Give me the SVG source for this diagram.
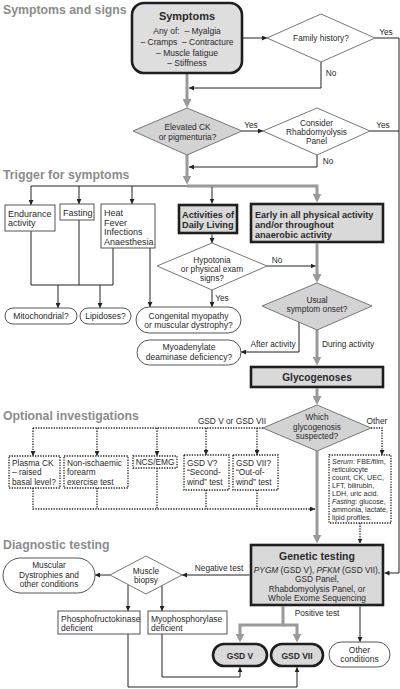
<svg xmlns="http://www.w3.org/2000/svg" width="400" height="689" viewBox="0 0 400 689">
<style>
text{font-family:"Liberation Sans",Arial,Helvetica,sans-serif;fill:#2a2a2a;font-size:8.3px}
.h{font-size:12.3px;font-weight:bold;fill:#8c8c8c}
.b{font-weight:bold}
.m{text-anchor:middle}
.tb{font-size:9px}
.thin{fill:#fff;stroke:#555;stroke-width:1}
.thick{fill:#d9d9d9;stroke:#1e1e1e;stroke-width:2.6}
.gd{fill:#d3d3d3;stroke:#777;stroke-width:1}
.wd{fill:#fff;stroke:#777;stroke-width:1}
.dot{fill:#fff;stroke:#222;stroke-width:1.3;stroke-dasharray:1.3 1.3}
.ln{fill:none;stroke:#222;stroke-width:1}
.gl{fill:none;stroke:#9a9a9a;stroke-width:3}
.dl{fill:none;stroke:#222;stroke-width:1.3;stroke-dasharray:1.3 1.3}
</style>
<defs>
<marker id="ab" viewBox="0 0 6 6" refX="6" refY="3" markerWidth="5" markerHeight="5" markerUnits="userSpaceOnUse" orient="auto"><path d="M0,0 L6,3 L0,6 z" fill="#222"/></marker>
<marker id="ag" viewBox="0 0 9 9" refX="6" refY="4.5" markerWidth="9" markerHeight="9" markerUnits="userSpaceOnUse" orient="auto"><path d="M0,0 L9,4.5 L0,9 z" fill="#9a9a9a"/></marker>
</defs>
<rect width="400" height="689" fill="#fff"/>

<g id="headers">
<text class="h" x="3" y="14">Symptoms and signs</text>
<text class="h" x="3" y="179">Trigger for symptoms</text>
<text class="h" x="3" y="420">Optional investigations</text>
<text class="h" x="3" y="549">Diagnostic testing</text>
</g>

<g id="connectors">
<path class="gl" d="M187,74 V105" marker-end="url(#ag)"/>
<path class="gl" d="M187,155 V181.5" marker-end="url(#ag)"/>
<path class="gl" d="M187,186 H317 V199.5" marker-end="url(#ag)"/>
<path class="gl" d="M317,243.5 V280" marker-end="url(#ag)"/>
<path class="gl" d="M317,330 V362.5" marker-end="url(#ag)"/>
<path class="gl" d="M317,388.5 V402" marker-end="url(#ag)"/>
<path class="gl" d="M317,451 V540.5" marker-end="url(#ag)"/>
<path class="gl" d="M283,606.5 V625 H240 V639.5" marker-end="url(#ag)"/>
<path class="gl" d="M283,625 H297 V639.5" marker-end="url(#ag)"/>

<path class="ln" d="M242,38 H267" marker-end="url(#ab)"/>
<path class="ln" d="M375,38 H399 V573 H384.5" marker-end="url(#ab)"/>
<path class="ln" d="M370,131 H399"/>
<path class="ln" d="M321,62 V88 H189" marker-end="url(#ab)"/>
<path class="ln" d="M242,131 H263" marker-end="url(#ab)"/>
<path class="ln" d="M317,155 V167 H189" marker-end="url(#ab)"/>

<path class="ln" d="M31,186 H187"/>
<path class="ln" d="M31,186 V205" marker-end="url(#ab)"/>
<path class="ln" d="M79,186 V204" marker-end="url(#ab)"/>
<path class="ln" d="M132,186 V204" marker-end="url(#ab)"/>
<path class="ln" d="M212,187 V203.5" marker-end="url(#ab)"/>
<path class="ln" d="M212,234.5 V243" marker-end="url(#ab)"/>
<path class="ln" d="M267,266 H315.5" marker-end="url(#ab)"/>
<path class="ln" d="M212,290 V307" marker-end="url(#ab)"/>
<path class="ln" d="M150,248 V307" marker-end="url(#ab)"/>
<path class="ln" d="M31,231 V285 H113 V248"/>
<path class="ln" d="M79,220 V285"/>
<path class="ln" d="M58,285 V308" marker-end="url(#ab)"/>
<path class="ln" d="M100,285 V308" marker-end="url(#ab)"/>
<path class="ln" d="M299,322 V352 H241" marker-end="url(#ab)"/>

<path class="dl" d="M263,428 H33"/>
<path class="dl" d="M33,428 V456" marker-end="url(#ab)"/>
<path class="dl" d="M97,428 V456" marker-end="url(#ab)"/>
<path class="dl" d="M157,428 V456" marker-end="url(#ab)"/>
<path class="dl" d="M206,428 V455" marker-end="url(#ab)"/>
<path class="dl" d="M257,428 V455" marker-end="url(#ab)"/>
<path class="dl" d="M33,488 V509 H315" marker-end="url(#ab)"/>
<path class="dl" d="M97,488 V509"/>
<path class="dl" d="M157,468 V509"/>
<path class="dl" d="M206,490 V509"/>
<path class="dl" d="M257,490 V509"/>
<path class="dl" d="M371,428 H382 V455" marker-end="url(#ab)"/>
<path class="dl" d="M360,523 V543.5" marker-end="url(#ab)"/>

<path class="ln" d="M249.5,575 H182" marker-end="url(#ab)"/>
<path class="ln" d="M110,575 H95" marker-end="url(#ab)"/>
<path class="ln" d="M128,584.5 V611" marker-end="url(#ab)"/>
<path class="ln" d="M162,585.6 V611" marker-end="url(#ab)"/>
<path class="ln" d="M162,634 V677 H240 V667.3" marker-end="url(#ab)"/>
<path class="ln" d="M128,634 V687 H297 V667.3" marker-end="url(#ab)"/>
<path class="ln" d="M360,606.5 V642" marker-end="url(#ab)"/>

<text x="386" y="35" class="m">Yes</text>
<text x="331" y="76" class="m">No</text>
<text x="251" y="128" class="m">Yes</text>
<text x="383" y="128" class="m">Yes</text>
<text x="328" y="164" class="m">No</text>
<text x="277" y="263" class="m">No</text>
<text x="222" y="301" class="m">Yes</text>
<text x="273" y="347" class="m">After activity</text>
<text x="322" y="347">During activity</text>
<text x="232" y="424" class="m">GSD V or GSD VII</text>
<text x="377" y="424" class="m">Other</text>
<text x="219" y="571" class="m">Negative test</text>
<text x="317" y="616" class="m">Positive test</text>
</g>

<g id="symptoms">
<rect x="132" y="3" width="110" height="70" rx="12" class="thick" style="fill:#dedede"/>
<text x="187" y="20" class="m b" style="font-size:11px">Symptoms</text>
<text x="187" y="34" class="m" style="font-size:8.5px;white-space:pre">Any of:  – Myalgia</text>
<text x="187" y="45" class="m" style="font-size:8.5px;white-space:pre">– Cramps  – Contracture</text>
<text x="187" y="56" class="m" style="font-size:8.5px">– Muscle fatigue</text>
<text x="187" y="66" class="m" style="font-size:8.5px">– Stiffness</text>
</g>
<g id="family-history">
<polygon points="267,38 321,14 375,38 321,62" class="wd"/>
<text x="321" y="41" class="m">Family history?</text>
</g>
<g id="elevated-ck">
<polygon points="133,131 187,108 242,131 187,155" class="gd"/>
<text x="187.5" y="130" class="m">Elevated CK</text>
<text x="187.5" y="140" class="m">or pigmenturia?</text>
</g>
<g id="rhabdo-panel">
<polygon points="263,131 317,108 370,131 317,155" class="wd"/>
<text x="316.5" y="126" class="m">Consider</text>
<text x="316.5" y="135" class="m">Rhabdomyolysis</text>
<text x="316.5" y="144" class="m">Panel</text>
</g>
<g id="endurance">
<rect x="5" y="205" width="50" height="26" class="thin"/>
<text x="8" y="217" class="tb">Endurance</text>
<text x="8" y="226" class="tb">activity</text>
</g>
<g id="fasting">
<rect x="60" y="204" width="34" height="16" class="thin"/>
<text x="63" y="216" class="tb">Fasting</text>
</g>
<g id="heat">
<rect x="101" y="204" width="54" height="44" class="thin"/>
<text x="104" y="216" class="tb">Heat</text>
<text x="104" y="225.5" class="tb">Fever</text>
<text x="104" y="235" class="tb">Infections</text>
<text x="104" y="244.5" class="tb">Anaesthesia</text>
</g>
<g id="adl">
<rect x="179" y="205" width="58" height="28" class="thick"/>
<text x="182" y="218" class="b" style="font-size:9.2px">Activities of</text>
<text x="182" y="228" class="b" style="font-size:9.2px">Daily Living</text>
</g>
<g id="early">
<rect x="251" y="204" width="132" height="38" class="thick"/>
<text x="255" y="218" class="b" style="font-size:9.1px">Early in all physical activity</text>
<text x="255" y="228" class="b" style="font-size:9.1px">and/or throughout</text>
<text x="255" y="238" class="b" style="font-size:9.1px">anaerobic activity</text>
</g>
<g id="hypotonia">
<polygon points="157,266 212,243 267,266 212,290" class="wd"/>
<text x="212" y="263" class="m">Hypotonia</text>
<text x="212" y="272" class="m">or physical exam</text>
<text x="212" y="281" class="m">signs?</text>
</g>
<g id="mitochondrial">
<rect x="5" y="308" width="72" height="16" rx="8" class="thin"/>
<text x="41" y="319" class="m" style="font-size:8.5px">Mitochondrial?</text>
</g>
<g id="lipidoses">
<rect x="80" y="308" width="51" height="16" rx="8" class="thin"/>
<text x="105.5" y="319" class="m" style="font-size:8.5px">Lipidoses?</text>
</g>
<g id="congenital">
<rect x="136" y="307" width="105" height="26" rx="13" class="thin"/>
<text x="188.5" y="318.5" class="m" style="font-size:8.5px">Congenital myopathy</text>
<text x="188.5" y="328" class="m" style="font-size:8.5px">or muscular dystrophy?</text>
</g>
<g id="myoadenylate">
<rect x="137" y="340" width="104" height="25" rx="12.5" class="thin"/>
<text x="189" y="350" class="m" style="font-size:8.5px">Myoadenylate</text>
<text x="189" y="359.5" class="m" style="font-size:8.5px">deaminase deficiency?</text>
</g>
<g id="usual-onset">
<polygon points="262,306 317,283 372,306 317,330" class="gd"/>
<text x="317" y="303" class="m">Usual</text>
<text x="317" y="312" class="m">symptom onset?</text>
</g>
<g id="glycogenoses">
<rect x="251" y="367" width="132" height="20" class="thick"/>
<text x="317" y="381" class="m b" style="font-size:10.2px">Glycogenoses</text>
</g>
<g id="which">
<polygon points="263,428 317,405 371,428 317,451" class="gd"/>
<text x="317" y="420" class="m">Which</text>
<text x="317" y="429.5" class="m">glycogenosis</text>
<text x="317" y="439" class="m">suspected?</text>
</g>
<g id="plasma-ck">
<rect x="9" y="456" width="51" height="32" class="dot"/>
<text x="12" y="466">Plasma CK</text>
<text x="12" y="475">– raised</text>
<text x="12" y="484.5">basal level?</text>
</g>
<g id="forearm">
<rect x="64" y="456" width="64" height="32" class="dot"/>
<text x="67" y="466">Non-ischaemic</text>
<text x="67" y="475">forearm</text>
<text x="67" y="484.5">exercise test</text>
</g>
<g id="ncs-emg">
<rect x="133" y="456" width="44" height="12" class="dot"/>
<text x="155" y="465" class="m">NCS/EMG</text>
</g>
<g id="second-wind">
<rect x="184" y="455" width="45" height="35" class="dot"/>
<text x="187" y="466">GSD V?</text>
<text x="187" y="475">“Second-</text>
<text x="187" y="484.5">wind” test</text>
</g>
<g id="out-of-wind">
<rect x="233" y="455" width="45" height="35" class="dot"/>
<text x="236" y="466">GSD VII?</text>
<text x="236" y="475">“Out-of-</text>
<text x="236" y="484.5">wind” test</text>
</g>
<g id="serum">
<rect x="329" y="455" width="62" height="68" class="dot"/>
<text x="332" y="463.5" style="font-size:7.1px"><tspan font-style="italic">Serum</tspan>: FBE/film,</text>
<text x="332" y="471.6" style="font-size:7.1px">reticulocyte</text>
<text x="332" y="479.7" style="font-size:7.1px">count, CK, UEC,</text>
<text x="332" y="487.8" style="font-size:7.1px">LFT, bilirubin,</text>
<text x="332" y="495.9" style="font-size:7.1px">LDH, uric acid.</text>
<text x="332" y="504" style="font-size:7.1px"><tspan font-style="italic">Fasting</tspan>: glucose,</text>
<text x="332" y="512.1" style="font-size:7.1px">ammonia, lactate,</text>
<text x="332" y="520.2" style="font-size:7.1px">lipid profiles.</text>
</g>
<g id="genetic-testing">
<rect x="251" y="545" width="132" height="60" class="thick"/>
<text x="317" y="560" class="m b" style="font-size:10.5px">Genetic testing</text>
<text x="317" y="573" class="m"><tspan font-style="italic">PYGM</tspan> (GSD V), <tspan font-style="italic">PFKM</tspan> (GSD VII),</text>
<text x="317" y="582" class="m">GSD Panel,</text>
<text x="317" y="591.5" class="m">Rhabdomyolysis Panel, or</text>
<text x="317" y="601" class="m">Whole Exome Sequencing</text>
</g>
<g id="muscle-biopsy">
<polygon points="110,575 146,556 182,575 146,594" class="wd"/>
<text x="146" y="574" class="m">Muscle</text>
<text x="146" y="583" class="m">biopsy</text>
</g>
<g id="muscular-dystrophies">
<rect x="3" y="558" width="92" height="35" rx="17.5" class="thin"/>
<text x="49" y="568" class="m">Muscular</text>
<text x="49" y="577.5" class="m">Dystrophies and</text>
<text x="49" y="587" class="m">other conditions</text>
</g>
<g id="pfk-deficient">
<rect x="58" y="611" width="82" height="23" class="thin"/>
<text x="61" y="622" style="font-size:8.5px">Phosphofructokinase</text>
<text x="61" y="631" style="font-size:8.5px">deficient</text>
</g>
<g id="myophos-deficient">
<rect x="148" y="611" width="79" height="23" class="thin"/>
<text x="151" y="622" style="font-size:8.5px">Myophosphorylase</text>
<text x="151" y="631" style="font-size:8.5px">deficient</text>
</g>
<g id="gsd-v">
<rect x="213" y="644" width="54" height="22" rx="11" class="thick"/>
<text x="240" y="658.5" class="m b" style="font-size:8.5px">GSD V</text>
</g>
<g id="gsd-vii">
<rect x="271" y="644" width="52" height="22" rx="11" class="thick"/>
<text x="297" y="658.5" class="m b" style="font-size:8.5px">GSD VII</text>
</g>
<g id="other-conditions">
<rect x="329" y="642" width="61" height="25" rx="12.5" class="thin"/>
<text x="359.5" y="652.5" class="m" style="font-size:8.5px">Other</text>
<text x="359.5" y="662" class="m" style="font-size:8.5px">conditions</text>
</g>
</svg>
